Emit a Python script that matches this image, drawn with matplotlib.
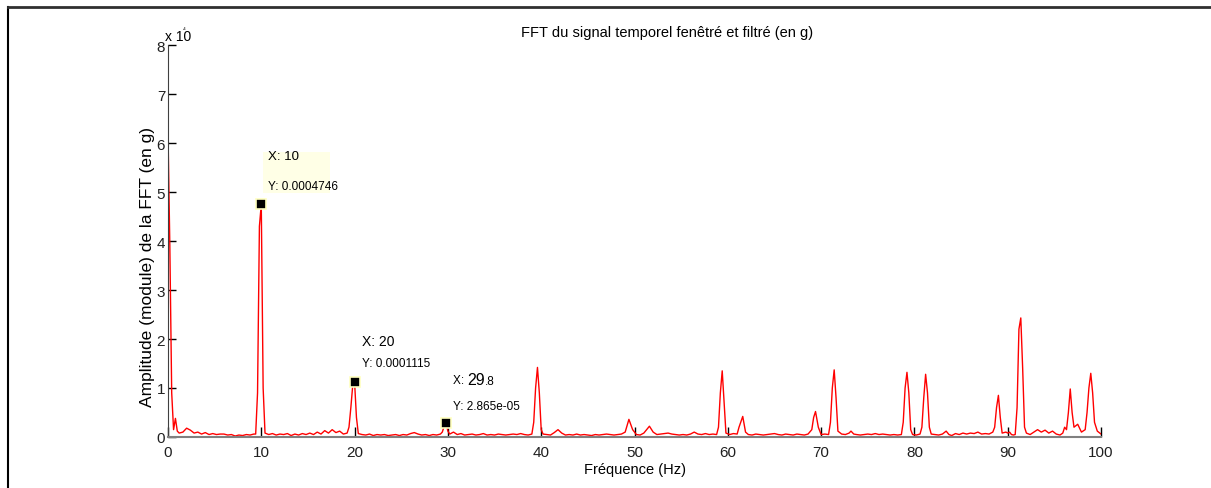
import matplotlib.pyplot as plt
from matplotlib.lines import Line2D

plt.rcParams['font.family'] = ['Liberation Sans', 'DejaVu Sans']

# spectrum points (Hz, amplitude in 1e-4 g)
freq = [0.0, 0.2, 0.4, 0.6, 0.8, 1.0, 1.2, 1.6, 2.0, 2.4, 2.8, 3.2, 3.6, 4.0, 4.4, 4.8,
        5.2, 5.6, 6.0, 6.4, 6.8, 7.2, 7.6, 8.0, 8.4, 8.8, 9.2, 9.4, 9.6, 9.8, 10.0, 10.2, 10.4,
        10.8, 11.2, 11.6, 12.0, 12.4, 12.8, 13.2, 13.6, 14.0, 14.4, 14.8, 15.2, 15.6, 16.0,
        16.4, 16.8, 17.2, 17.6, 18.0, 18.4, 18.8, 19.2, 19.4, 19.6, 19.8, 20.0, 20.2, 20.4,
        20.8, 21.2, 21.6, 22.0, 22.4, 22.8, 23.2, 23.6, 24.0, 24.4, 24.8, 25.2, 25.6, 26.0,
        26.4, 26.8, 27.2, 27.6, 28.0, 28.4, 28.8, 29.2, 29.4, 29.6, 29.8, 30.0, 30.2, 30.6,
        31.0, 31.4, 31.8, 32.2, 32.6, 33.0, 33.4, 33.8, 34.2, 34.6, 35.0, 35.4, 35.8, 36.2,
        36.6, 37.0, 37.4, 37.8, 38.2, 38.6, 39.0, 39.2, 39.4, 39.6, 39.8, 40.0, 40.2, 40.6,
        41.0, 41.4, 41.8, 42.2, 42.6, 43.0, 43.4, 43.8, 44.2, 44.6, 45.0, 45.4, 45.8, 46.2,
        46.6, 47.0, 47.4, 47.8, 48.2, 48.6, 49.0, 49.4, 49.8, 50.2, 50.6, 51.0, 51.6, 52.0,
        52.4, 52.8, 53.2, 53.6, 54.0, 54.4, 54.8, 55.2, 55.6, 56.0, 56.4, 56.8, 57.2, 57.6,
        58.0, 58.4, 58.8, 59.0, 59.2, 59.4, 59.6, 59.8, 60.2, 60.6, 61.0, 61.2, 61.6, 61.9,
        62.2, 62.6, 63.0, 63.4, 63.8, 64.2, 64.6, 65.0, 65.4, 65.8, 66.2, 66.6, 67.0, 67.4,
        67.8, 68.2, 68.6, 69.0, 69.2, 69.4, 69.7, 70.0, 70.4, 70.8, 71.0, 71.2, 71.4, 71.6,
        71.8, 72.2, 72.6, 73.0, 73.2, 73.5, 73.8, 74.2, 74.6, 75.0, 75.4, 75.8, 76.2, 76.6,
        77.0, 77.4, 77.8, 78.2, 78.6, 78.8, 79.0, 79.2, 79.4, 79.6, 79.8, 80.2, 80.6, 80.8,
        81.0, 81.2, 81.4, 81.6, 81.8, 82.2, 82.6, 83.0, 83.4, 83.7, 84.0, 84.4, 84.8, 85.2,
        85.6, 86.0, 86.4, 86.8, 87.2, 87.6, 88.0, 88.4, 88.6, 88.8, 89.0, 89.2, 89.4, 89.8,
        90.0, 90.2, 90.4, 90.6, 90.8, 91.0, 91.2, 91.4, 91.6, 91.8, 92.0, 92.4, 92.8, 93.2,
        93.6, 94.0, 94.4, 94.8, 95.2, 95.6, 95.9, 96.1, 96.3, 96.5, 96.7, 96.9, 97.1, 97.5,
        97.9, 98.3, 98.5, 98.7, 98.9, 99.1, 99.3, 99.6, 100.0]
amp = [6.25, 3.9, 0.9, 0.15, 0.38, 0.12, 0.08, 0.1, 0.18, 0.14, 0.08, 0.1, 0.06, 0.09, 0.05, 0.07,
       0.05, 0.06, 0.06, 0.04, 0.05, 0.02, 0.04, 0.03, 0.05, 0.04, 0.06, 0.06, 0.9, 4.3, 4.746, 1.0, 0.08,
       0.05, 0.07, 0.04, 0.06, 0.05, 0.07, 0.03, 0.06, 0.04, 0.07, 0.05, 0.08, 0.05, 0.1,
       0.06, 0.13, 0.08, 0.15, 0.09, 0.12, 0.06, 0.08, 0.2, 0.6, 1.05, 1.115, 0.4, 0.07,
       0.05, 0.04, 0.06, 0.03, 0.05, 0.04, 0.05, 0.03, 0.04, 0.05, 0.03, 0.05, 0.04, 0.07,
       0.09, 0.06, 0.04, 0.05, 0.03, 0.05, 0.04, 0.06, 0.1, 0.22, 0.2865, 0.12, 0.06, 0.1,
       0.05, 0.07, 0.04, 0.05, 0.06, 0.04, 0.05, 0.07, 0.04, 0.05, 0.04, 0.06, 0.05, 0.04,
       0.05, 0.06, 0.05, 0.07, 0.05, 0.04, 0.06, 0.3, 1.0, 1.42, 0.9, 0.15, 0.06, 0.05,
       0.04, 0.09, 0.15, 0.08, 0.04, 0.05, 0.04, 0.06, 0.04, 0.05, 0.04, 0.03, 0.05, 0.04,
       0.05, 0.06, 0.05, 0.04, 0.05, 0.06, 0.1, 0.36, 0.15, 0.05, 0.04, 0.08, 0.22, 0.1,
       0.05, 0.06, 0.07, 0.08, 0.06, 0.05, 0.04, 0.05, 0.04, 0.06, 0.1, 0.06, 0.05, 0.07,
       0.05, 0.06, 0.05, 0.2, 0.9, 1.35, 0.7, 0.08, 0.05, 0.07, 0.06, 0.2, 0.42, 0.1,
       0.05, 0.04, 0.06, 0.05, 0.04, 0.05, 0.06, 0.07, 0.05, 0.04, 0.06, 0.05, 0.04, 0.06,
       0.05, 0.04, 0.06, 0.15, 0.4, 0.52, 0.2, 0.05, 0.06, 0.05, 0.3, 1.0, 1.37, 0.8,
       0.12, 0.06, 0.05, 0.08, 0.12, 0.06, 0.05, 0.04, 0.05, 0.06, 0.05, 0.07, 0.05, 0.06,
       0.05, 0.04, 0.05, 0.04, 0.05, 0.3, 1.0, 1.32, 0.9, 0.15, 0.05, 0.04, 0.06, 0.2,
       0.8, 1.28, 0.9, 0.2, 0.06, 0.05, 0.04, 0.06, 0.12, 0.05, 0.03, 0.07, 0.05, 0.08,
       0.06, 0.08, 0.07, 0.1, 0.06, 0.07, 0.06, 0.1, 0.2, 0.6, 0.85, 0.4, 0.08, 0.1,
       0.08, 0.1, 0.05, 0.04, 0.05, 0.6, 2.2, 2.43, 1.4, 0.2, 0.08, 0.05, 0.1, 0.15,
       0.1, 0.14, 0.08, 0.12, 0.06, 0.04, 0.08, 0.2, 0.15, 0.5, 0.98, 0.5, 0.2, 0.26,
       0.1, 0.15, 0.5, 1.0, 1.3, 0.9, 0.3, 0.12, 0.06]

tip_x = [10, 20, 29.8]
tip_y = [4.746, 1.115, 0.2865]

fig = plt.figure(figsize=(12.11, 4.89), dpi=100)
ax = fig.add_axes([0.1387, 0.1043, 0.7705, 0.8016])

ax.plot(freq, amp, color='red', lw=1.0)
ax.plot(tip_x, tip_y, 's', ms=7, mfc='black', mec=(1, 1, 0.75), mew=1.2, zorder=5)

ax.set_xlim(0, 100)
ax.set_ylim(0, 8)
ax.set_xticks(range(0, 101, 10))
ax.set_yticks(range(0, 9))
for s in ['top', 'right']:
    ax.spines[s].set_visible(False)
ax.spines['bottom'].set_color('#808080')
ax.spines['bottom'].set_linewidth(1.5)
ax.spines['left'].set_color('#404040')
ax.tick_params(axis='x', direction='in', length=7, width=1, colors='black', labelsize=11, pad=6)
ax.tick_params(axis='y', direction='in', length=6, width=1, colors='black', labelsize=11, pad=2)
for lab in ax.get_xticklabels() + ax.get_yticklabels():
    lab.set_color('#202020')

ax.set_xlabel('Fréquence (Hz)', fontsize=10.5, labelpad=2)
ax.set_ylabel('Amplitude (module) de la FFT (en g)', fontsize=12.5, labelpad=3)
ax.yaxis.set_label_coords(-0.014, 0.435)
fig.text(0.551, 0.932, 'FFT du signal temporel fenêtré et filtré (en g)', fontsize=10.5,
         ha='center', va='center')
ax.text(-0.3, 8.05, 'x 10', fontsize=10, ha='left', va='bottom')
ax.text(1.6, 8.3, '-4', fontsize=3, ha='left', va='bottom')

# data tips
ax.add_patch(plt.Rectangle((10.2, 4.98), 7.2, 0.84, fc=(1, 1, 0.9), ec='none', zorder=1))
ax.text(10.7, 5.73, 'X: 10', fontsize=9.5, va='center', ha='left')
ax.text(10.7, 5.12, 'Y: 0.0004746', fontsize=8.5, va='center', ha='left')
ax.text(20.8, 1.96, 'X: 20', fontsize=10, va='center', ha='left')
ax.text(20.8, 1.51, 'Y: 0.0001115', fontsize=8.5, va='center', ha='left')
ax.text(30.5, 1.17, 'X: ', fontsize=8.5, va='center', ha='left')
ax.text(32.1, 1.18, '29', fontsize=11.5, va='center', ha='left')
ax.text(34.0, 1.14, '.8', fontsize=8.5, va='center', ha='left')
ax.text(30.5, 0.64, 'Y: 2.865e-05', fontsize=8.5, va='center', ha='left')

# outer frame (left and top)
fig.add_artist(Line2D([0.0066, 0.0066], [0.0, 0.984], color='black', lw=1.5))
fig.add_artist(Line2D([0.0066, 1.0], [0.984, 0.984], color='#303030', lw=2))

fig.savefig('out.png', dpi=100)
